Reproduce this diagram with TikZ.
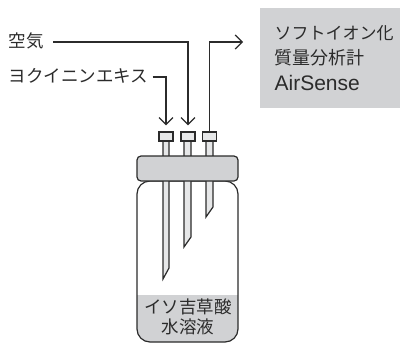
\documentclass[tikz,border=0pt]{standalone}
\usepackage{fontspec}
\setmainfont{Liberation Sans}
\newfontfamily\cjk{Noto Sans CJK JP}
\usetikzlibrary{arrows.meta}
\usetikzlibrary{positioning}
\definecolor{inkline}{HTML}{2B2B2B}
\definecolor{lidgray}{HTML}{D1D2D4}
\definecolor{stemgray}{HTML}{E6E7E8}

\begin{document}
\begin{tikzpicture}[x=1pt,y=-1pt,line width=1.2pt,draw=inkline,
			>={Straight Barb[length=7pt,width=14pt]},shorten >=0pt]
			\tikzset{every node/.style={font=\fontsize{17.5pt}{20pt}\selectfont\cjk,text=inkline,inner sep=0pt}}
			\tikzset{capbox/.style={draw=inkline,fill=stemgray,minimum width=14pt,minimum height=9pt}}
			\tikzset{lidbox/.style={draw=inkline,fill=lidgray,rounded corners=4pt,minimum width=101pt,minimum height=25pt}}
			\tikzset{flow/.style={draw=inkline,line width=1.2pt}}
			\useasboundingbox (0,0) rectangle (404,343);
			
			% bottle
			\fill[lidgray,rounded corners=12pt] (137,295) -- (137,342) -- (238,342) -- (238,295) -- cycle;
			\fill[lidgray] (137,295) rectangle (238,308);
			\draw[inkline,rounded corners=13pt] (137,181) -- (137,342) -- (238,342) -- (238,181) -- cycle;
			
			% needles
			\draw[inkline,fill=stemgray] (163,141) -- (163,279) -- (169,268) -- (169,141) -- cycle;
			\draw[inkline,fill=stemgray] (184,141) -- (184,247) -- (191,237) -- (191,141) -- cycle;
			\draw[inkline,fill=stemgray] (206,141) -- (206,217) -- (213,207) -- (213,141) -- cycle;
			
			\node[lidbox] (lid) at (187.5,168.5) {};
			\node[capbox] (cap_1) at (166,136.5) {};
			\node[capbox] (cap_2) at (188,136.5) {};
			\node[capbox] (cap_3) at (209.5,136.5) {};
			
			\node[anchor=west] (air) at (8,41) {空気};
			\node[anchor=west] (extract) at (8,76) {ヨクイニンエキス};
			\node (acid) at (188,307) {イソ吉草酸};
			\node (solution) at (188,327) {水溶液};
			\node[fill=lidgray,minimum width=140pt,minimum height=100pt] (ms) at (330,58) {};
			\node[anchor=west,font=\fontsize{17pt}{20pt}\selectfont\cjk] (ms_1) at (274,33) {ソフトイオン化};
			\node[anchor=west,font=\fontsize{18pt}{20pt}\selectfont\cjk] (ms_2) at (274,58) {質量分析計};
			\node[anchor=west,font=\fontsize{21pt}{22pt}\selectfont] (ms_3) at (274,83) {AirSense};
			\coordinate (ms_in) at (243,42);
			
			\draw[flow,->,shorten <=9pt,shorten >=6pt] (air.east |- ms_in) -| (cap_2.north);
			\draw[flow,->,shorten <=4pt,shorten >=6pt] (extract.east |- 0,77) -| (cap_1.north);
			\draw[flow,->] (cap_3.north) |- (ms_in);
			\end{tikzpicture}
\end{document}
